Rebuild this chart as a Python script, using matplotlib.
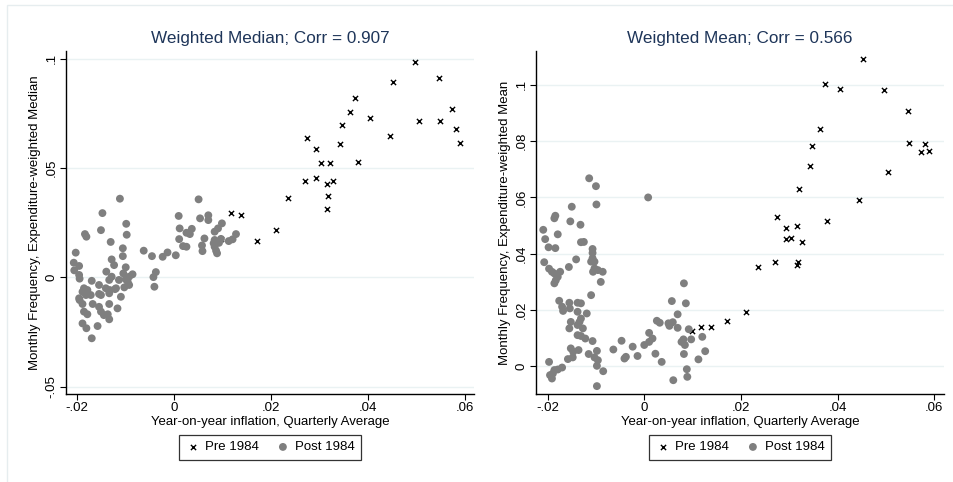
import numpy as np
import matplotlib
matplotlib.use("Agg")
import matplotlib.pyplot as plt
from matplotlib.ticker import FuncFormatter
from matplotlib.patches import Rectangle

plt.rcParams['font.family'] = ['Liberation Sans', 'DejaVu Sans']

# pre 1984: same quarters in both panels
pre_x = [0.0098, 0.0118, 0.0138, 0.0172, 0.0211, 0.0236, 0.0270, 0.0275, 0.0293, 0.0293,
         0.0303, 0.0315, 0.0315, 0.0318, 0.0321, 0.0327, 0.0343, 0.0347, 0.0363, 0.0373,
         0.0379, 0.0404, 0.0445, 0.0452, 0.0496, 0.0505, 0.0545, 0.0548, 0.0573, 0.0581, 0.0590]
pre_median = [0.0175, 0.0293, 0.0284, 0.0166, 0.0216, 0.0364, 0.0442, 0.0636, 0.0589, 0.0456,
              0.0523, 0.0428, 0.0314, 0.0371, 0.0523, 0.0441, 0.0610, 0.0697, 0.0757, 0.0821,
              0.0529, 0.0728, 0.0647, 0.0895, 0.0987, 0.0715, 0.0913, 0.0715, 0.0772, 0.0677, 0.0616]
pre_mean = [0.0125, 0.0141, 0.0141, 0.0163, 0.0194, 0.0353, 0.0370, 0.0531, 0.0492, 0.0452,
            0.0456, 0.0498, 0.0359, 0.0372, 0.0630, 0.0443, 0.0711, 0.0782, 0.0843, 0.1002,
            0.0516, 0.0985, 0.0591, 0.1092, 0.0980, 0.0690, 0.0906, 0.0794, 0.0762, 0.0789, 0.0766]

# post 1984, weighted median panel
post_x_med = [-0.0111, -0.0147, -0.0098, -0.0150, -0.0183, -0.0180, -0.0097, -0.0130, -0.0105, -0.0202,
              -0.0105, -0.0128, -0.0206, -0.0195, -0.0123, -0.0099, -0.0205, -0.0195, -0.0194, -0.0139,
              -0.0128, -0.0085, -0.0092, -0.0099, -0.0169, -0.0133, -0.0113, -0.0095, -0.0154, -0.0185,
              -0.0178, -0.0140, -0.0119, -0.0102, -0.0092, -0.0195, -0.0171, -0.0181, -0.0150, -0.0133,
              -0.0109, -0.0121, -0.0154, -0.0194, -0.0188, -0.0167, -0.0154, -0.0133, -0.0116, -0.0185,
              -0.0178, -0.0150, -0.0144, -0.0133, -0.0136, -0.0188, -0.0180, -0.0157, -0.0169, -0.0062,
              -0.0045, -0.0023, -0.0013, 0.0004, -0.0037, -0.0042, -0.0040, -0.0104, -0.0132, -0.0188,
              0.0051, 0.0010, 0.0054, 0.0071, 0.0071, 0.0099, 0.0012, 0.0037, 0.0026, 0.0033,
              0.0091, 0.0084, 0.0128, 0.0121, 0.0113, 0.0011, 0.0063, 0.0084, 0.0093, 0.0082,
              0.0019, 0.0026, 0.0058, 0.0059, 0.0084, 0.0087, 0.0089, 0.0097]
post_median = [0.0360, 0.0294, 0.0245, 0.0216, 0.0198, 0.0186, 0.0195, 0.0162, 0.0133, 0.0113,
               0.0097, 0.0082, 0.0067, 0.0052, 0.0056, 0.0046, 0.0032, 0.0011, -0.0006, 0.0026,
               0.0003, 0.0014, 0.0003, -0.0009, -0.0016, -0.0012, -0.0012, -0.0020, -0.0035, -0.0050,
               -0.0058, -0.0050, -0.0050, -0.0046, -0.0035, -0.0096, -0.0081, -0.0081, -0.0081, -0.0073,
               -0.0089, -0.0054, -0.0076, -0.0104, -0.0122, -0.0122, -0.0135, -0.0122, -0.0142, -0.0157,
               -0.0169, -0.0157, -0.0173, -0.0192, -0.0169, -0.0211, -0.0233, -0.0223, -0.0279, 0.0122,
               0.0097, 0.0094, 0.0114, 0.0101, 0.0024, 0.0001, -0.0043, 0.0018, -0.0058, -0.0066,
               0.0357, 0.0281, 0.0270, 0.0284, 0.0262, 0.0247, 0.0224, 0.0222, 0.0204, 0.0198,
               0.0224, 0.0209, 0.0198, 0.0174, 0.0166, 0.0175, 0.0178, 0.0171, 0.0158, 0.0156,
               0.0143, 0.0140, 0.0146, 0.0120, 0.0140, 0.0122, 0.0110, 0.0176]

# post 1984, weighted mean panel
post_x_mean = [-0.0114, -0.0100, -0.0099, -0.0150, -0.0184, -0.0186, -0.0153, -0.0132, -0.0209, -0.0179,
               -0.0205, -0.0131, -0.0125, -0.0198, -0.0184, -0.0107, -0.0107, -0.0207, -0.0141, -0.0107,
               -0.0103, -0.0110, -0.0156, -0.0197, -0.0191, -0.0186, -0.0179, -0.0183, -0.0186, -0.0174,
               -0.0103, -0.0096, -0.0086, -0.0106, -0.0090, -0.0110, -0.0176, -0.0170, -0.0168, -0.0155,
               -0.0154, -0.0138, -0.0131, -0.0138, -0.0119, -0.0152, -0.0155, -0.0134, -0.0131, -0.0138,
               -0.0127, -0.0138, -0.0131, -0.0122, -0.0107, -0.0152, -0.0136, -0.0147, -0.0158, -0.0148,
               -0.0115, -0.0098, -0.0103, -0.0096, -0.0098, -0.0085, -0.0098, -0.0197, -0.0186, -0.0179,
               -0.0170, -0.0189, -0.0195, -0.0191, -0.0064, -0.0047, -0.0041, -0.0038, -0.0024, -0.0014,
               0.0000, 0.0008, 0.0082, 0.0057, 0.0086, 0.0069, 0.0026, 0.0032, 0.0050, 0.0059,
               0.0052, 0.0069, 0.0092, 0.0010, 0.0017, 0.0010, 0.0081, 0.0077, 0.0084, 0.0097,
               0.0120, 0.0023, 0.0036, 0.0082, 0.0126, 0.0112, 0.0088, 0.0089, 0.0060]
post_mean = [0.0668, 0.0640, 0.0575, 0.0567, 0.0535, 0.0526, 0.0515, 0.0503, 0.0485, 0.0469,
             0.0452, 0.0441, 0.0442, 0.0423, 0.0420, 0.0417, 0.0403, 0.0370, 0.0380, 0.0384,
             0.0372, 0.0372, 0.0353, 0.0347, 0.0336, 0.0330, 0.0318, 0.0306, 0.0295, 0.0336,
             0.0348, 0.0342, 0.0336, 0.0336, 0.0300, 0.0253, 0.0233, 0.0212, 0.0197, 0.0226,
             0.0206, 0.0226, 0.0224, 0.0194, 0.0188, 0.0158, 0.0135, 0.0158, 0.0170, 0.0147,
             0.0135, 0.0111, 0.0108, 0.0099, 0.0090, 0.0064, 0.0058, 0.0052, 0.0026, 0.0032,
             0.0044, 0.0055, 0.0032, 0.0022, 0.0002, -0.0017, -0.0070, 0.0016, -0.0013, -0.0011,
             -0.0004, -0.0025, -0.0031, -0.0043, 0.0060, 0.0091, 0.0028, 0.0034, 0.0070, 0.0037,
             0.0076, 0.0600, 0.0295, 0.0232, 0.0224, 0.0185, 0.0162, 0.0155, 0.0153, 0.0157,
             0.0144, 0.0137, 0.0132, 0.0119, 0.0099, 0.0087, 0.0096, 0.0087, 0.0076, 0.0096,
             0.0105, 0.0045, 0.0016, 0.0044, 0.0054, 0.0025, -0.0010, -0.0037, -0.0049]

x_ticks = [-0.02, 0, 0.02, 0.04, 0.06]
med_ticks = [-0.05, 0, 0.05, 0.1]
mean_ticks = [0, 0.02, 0.04, 0.06, 0.08, 0.1]


def stata_fmt(v, pos):
    s = ('%.2f' % v).rstrip('0').rstrip('.')
    if s in ('0', '-0', ''):
        return '0'
    return s.replace('0.', '.')


title_col = '#1e3559'
dot_col = '#7f7f7f'
grid_col = '#eaf2f3'

fig = plt.figure(figsize=(9.54, 4.82), dpi=100)
fig.patches.append(Rectangle((7 / 954, -0.1), 1.2, 1 - 5 / 482 + 0.1, transform=fig.transFigure,
                             fill=False, edgecolor='#e6edef', linewidth=1))

panels = [
    (66, pre_median, post_x_med, post_median, (-0.0222, 0.0618), (-0.0534, 0.1036), med_ticks,
     'Weighted Median; Corr = 0.907', 'Monthly Frequency, Expenditure-weighted Median'),
    (536, pre_mean, post_x_mean, post_mean, (-0.0224, 0.0620), (-0.0098, 0.1120), mean_ticks,
     'Weighted Mean; Corr = 0.566', 'Monthly Frequency, Expenditure-weighted Mean'),
]

for left, pre_y, px, py, xl, yl, yt, title, ylab in panels:
    ax = fig.add_axes([left / 954, 1 - 394 / 482, 408 / 954, 343 / 482])
    ax.scatter(pre_x, pre_y, s=14, marker='x', color='black', linewidths=1.0, label='Pre 1984', zorder=3)
    ax.scatter(px, py, s=32, color=dot_col, edgecolors='none', label='Post 1984', zorder=4)
    ax.set_xlim(*xl)
    ax.set_ylim(*yl)
    ax.set_xticks(x_ticks)
    ax.set_yticks(yt)
    ax.xaxis.set_major_formatter(FuncFormatter(stata_fmt))
    ax.yaxis.set_major_formatter(FuncFormatter(stata_fmt))
    for lab in ax.get_yticklabels():
        lab.set_rotation(90)
        lab.set_va('center')
    ax.tick_params(labelsize=9.5, length=4, width=0.8, color='black', pad=2)
    ax.grid(axis='y', color=grid_col, linewidth=1.0)
    ax.set_axisbelow(True)
    for s in ('top', 'right'):
        ax.spines[s].set_visible(False)
    for s in ('left', 'bottom'):
        ax.spines[s].set_color('black')
        ax.spines[s].set_linewidth(1.0)
    ax.set_title(title, color=title_col, fontsize=12.3, pad=6)
    ax.set_xlabel('Year-on-year inflation, Quarterly Average', fontsize=9.5, labelpad=1)
    ax.set_ylabel(ylab, fontsize=9.5, labelpad=3)
    leg = ax.legend(loc='upper center', bbox_to_anchor=(0.5, -0.099),
                    ncol=2, fontsize=9.5, frameon=True, fancybox=False, edgecolor='black',
                    handletextpad=0.3, columnspacing=1.2, borderpad=0.5, handlelength=1.2)
    leg.get_frame().set_linewidth(0.9)

fig.savefig('out.png', dpi=100, facecolor='white')
